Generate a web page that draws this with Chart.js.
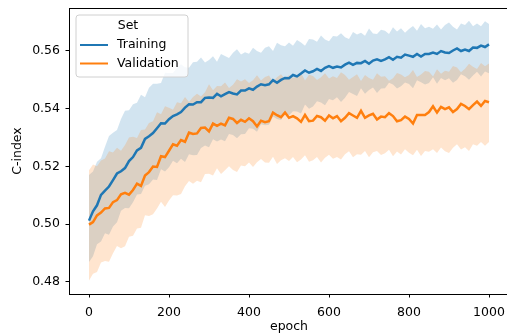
<!DOCTYPE html>
<html>
<head>
<meta charset="utf-8">
<script src="https://cdn.jsdelivr.net/npm/chart.js@4"></script>
<style>
  html, body { margin: 0; padding: 0; background: #fff; overflow: hidden; }
  .wrap { width: 509px; height: 334px; position: relative; }
</style>
</head>
<body>
<div class="wrap"><canvas id="chart"></canvas></div>
<script>
const epochs = [];
for (let e = 0; e <= 1000; e += 10) epochs.push(e);

const seriesNames = ["Training", "Validation"];
const xTicks = [0, 200, 400, 600, 800, 1000];
const yTicks = [0.48, 0.50, 0.52, 0.54, 0.56];

const trainMean = [
  .5012, .5044, .5065, .5101, .5116, .5130, .5152, .5175, .5183, .5194,
  .5218, .5232, .5255, .5264, .5295, .5304, .5315, .5332, .5349, .5348,
  .5363, .5374, .5380, .5388, .5403, .5415, .5414, .5422, .5422, .5437,
  .5438, .5437, .5451, .5442, .5450, .5457, .5452, .5449, .5462, .5462,
  .5470, .5465, .5476, .5484, .5481, .5484, .5498, .5489, .5499, .5506,
  .5505, .5516, .5511, .5521, .5532, .5524, .5529, .5537, .5530, .5541,
  .5547, .5541, .5545, .5542, .5552, .5559, .5551, .5558, .5557, .5565,
  .5555, .5566, .5570, .5565, .5570, .5578, .5569, .5579, .5576, .5587,
  .5583, .5579, .5589, .5580, .5589, .5589, .5594, .5589, .5599, .5594,
  .5592, .5601, .5608, .5599, .5604, .5599, .5611, .5610, .5618, .5613,
  .5622
];
const trainUpper = [
  .5170, .5182, .5216, .5228, .5268, .5305, .5316, .5326, .5364, .5392,
  .5394, .5415, .5420, .5448, .5439, .5472, .5486, .5486, .5488, .5524,
  .5523, .5523, .5541, .5553, .5543, .5541, .5560, .5562, .5577, .5559,
  .5568, .5581, .5562, .5589, .5582, .5575, .5593, .5605, .5587, .5595,
  .5590, .5610, .5599, .5593, .5610, .5616, .5599, .5628, .5619, .5616,
  .5629, .5617, .5637, .5629, .5617, .5641, .5639, .5631, .5653, .5639,
  .5633, .5651, .5649, .5661, .5647, .5641, .5665, .5656, .5662, .5652,
  .5677, .5660, .5658, .5673, .5669, .5658, .5681, .5667, .5678, .5662,
  .5675, .5686, .5669, .5693, .5678, .5683, .5676, .5691, .5674, .5689,
  .5698, .5683, .5674, .5694, .5689, .5704, .5685, .5694, .5685, .5702,
  .5693
];
const trainLower = [
  .4869, .4889, .4930, .4940, .4968, .4963, .4992, .5006, .5046, .5056,
  .5055, .5076, .5102, .5104, .5133, .5138, .5154, .5153, .5190, .5182,
  .5197, .5219, .5211, .5226, .5215, .5242, .5238, .5239, .5263, .5272,
  .5266, .5294, .5286, .5293, .5287, .5312, .5308, .5297, .5311, .5312,
  .5332, .5330, .5320, .5346, .5342, .5344, .5372, .5364, .5360, .5384,
  .5376, .5391, .5390, .5383, .5414, .5399, .5407, .5425, .5421, .5411,
  .5433, .5429, .5439, .5423, .5437, .5457, .5450, .5443, .5470, .5451,
  .5464, .5473, .5454, .5469, .5470, .5489, .5483, .5469, .5477, .5490,
  .5485, .5470, .5498, .5491, .5483, .5488, .5508, .5486, .5506, .5498,
  .5505, .5489, .5499, .5519, .5512, .5500, .5514, .5527, .5511, .5528,
  .5522
];
const valMean = [
  .4998, .5007, .5030, .5040, .5054, .5056, .5076, .5083, .5103, .5108,
  .5102, .5118, .5140, .5132, .5168, .5180, .5199, .5198, .5235, .5232,
  .5254, .5276, .5271, .5291, .5285, .5317, .5312, .5314, .5333, .5334,
  .5321, .5348, .5340, .5348, .5342, .5368, .5364, .5350, .5361, .5354,
  .5366, .5356, .5338, .5358, .5353, .5356, .5386, .5377, .5370, .5386,
  .5368, .5374, .5366, .5354, .5378, .5356, .5358, .5374, .5370, .5358,
  .5376, .5366, .5374, .5356, .5368, .5384, .5376, .5368, .5392, .5368,
  .5376, .5382, .5362, .5372, .5370, .5384, .5374, .5356, .5360, .5372,
  .5364, .5348, .5378, .5378, .5378, .5388, .5408, .5386, .5406, .5398,
  .5404, .5388, .5398, .5416, .5409, .5398, .5412, .5424, .5409, .5426,
  .5422
];
const valUpper = [
  .5186, .5206, .5200, .5220, .5227, .5252, .5248, .5264, .5254, .5274,
  .5300, .5302, .5298, .5326, .5327, .5350, .5356, .5387, .5380, .5408,
  .5403, .5396, .5422, .5418, .5440, .5423, .5440, .5451, .5442, .5456,
  .5484, .5463, .5478, .5477, .5490, .5471, .5482, .5501, .5494, .5501,
  .5488, .5498, .5515, .5497, .5509, .5514, .5493, .5508, .5519, .5502,
  .5516, .5506, .5512, .5523, .5497, .5517, .5513, .5499, .5508, .5522,
  .5504, .5512, .5506, .5526, .5516, .5500, .5509, .5519, .5495, .5516,
  .5506, .5500, .5522, .5510, .5512, .5496, .5505, .5523, .5518, .5508,
  .5516, .5533, .5509, .5518, .5530, .5527, .5511, .5536, .5520, .5531,
  .5527, .5547, .5542, .5526, .5538, .5555, .5545, .5537, .5558, .5546,
  .5556
];
const valLower = [
  .4805, .4828, .4834, .4867, .4872, .4870, .4899, .4924, .4916, .4923,
  .4956, .4960, .4985, .4987, .5031, .5028, .5034, .5054, .5077, .5059,
  .5082, .5100, .5099, .5104, .5131, .5149, .5140, .5150, .5145, .5173,
  .5174, .5168, .5193, .5173, .5186, .5200, .5187, .5180, .5203, .5200,
  .5213, .5198, .5214, .5225, .5213, .5212, .5233, .5208, .5221, .5228,
  .5218, .5232, .5214, .5224, .5238, .5216, .5221, .5232, .5213, .5230,
  .5240, .5226, .5232, .5224, .5242, .5252, .5231, .5242, .5240, .5253,
  .5231, .5249, .5253, .5239, .5245, .5257, .5235, .5251, .5241, .5259,
  .5247, .5238, .5257, .5236, .5253, .5250, .5259, .5246, .5265, .5252,
  .5246, .5264, .5276, .5258, .5266, .5253, .5276, .5271, .5284, .5271,
  .5284
];

const BLUE = "#1f77b4";
const ORANGE = "#ff7f0e";
const FONT = "'DejaVu Sans', sans-serif";

const pts = vals => vals.map((v, i) => ({ x: epochs[i], y: v }));

function band(vals, color, fill, order) {
  return {
    data: pts(vals),
    borderWidth: 0,
    pointRadius: 0,
    backgroundColor: color,
    fill: fill,
    order: order,
    isBand: true
  };
}

// spines + legend box like matplotlib
const framePlugin = {
  id: "frame",
  afterDraw(chart) {
    const { ctx, chartArea: a } = chart;
    ctx.save();
    ctx.strokeStyle = "#000";
    ctx.lineWidth = 1;
    ctx.strokeRect(a.left + 0.5, a.top + 0.5, a.right - a.left - 1, a.bottom - a.top);

    // legend
    const lx = 76, ly = 15, lw = 112, lh = 62, r = 3;
    ctx.beginPath();
    ctx.moveTo(lx + r, ly);
    ctx.arcTo(lx + lw, ly, lx + lw, ly + lh, r);
    ctx.arcTo(lx + lw, ly + lh, lx, ly + lh, r);
    ctx.arcTo(lx, ly + lh, lx, ly, r);
    ctx.arcTo(lx, ly, lx + lw, ly, r);
    ctx.closePath();
    ctx.fillStyle = "rgba(255,255,255,0.8)";
    ctx.fill();
    ctx.strokeStyle = "#d0d0d0";
    ctx.stroke();

    ctx.font = "12.5px " + FONT;
    ctx.fillStyle = "#000";
    ctx.textBaseline = "middle";
    ctx.textAlign = "center";
    ctx.fillText("Set", 128, 26);
    ctx.textAlign = "left";
    const items = chart.data.datasets.filter(d => !d.isBand);
    items.forEach((d, i) => {
      const y = 45 + i * 18.5;
      ctx.strokeStyle = d.borderColor;
      ctx.lineWidth = 2;
      ctx.beginPath();
      ctx.moveTo(80, y);
      ctx.lineTo(108, y);
      ctx.stroke();
      ctx.fillStyle = "#000";
      ctx.fillText(d.label, 117, y);
    });
    ctx.restore();
  }
};

new Chart(document.getElementById("chart"), {
  type: "line",
  data: {
    datasets: [
      band(trainUpper, "rgba(31,119,180,0.2)", "+1", 4),
      band(trainLower, "rgba(31,119,180,0.2)", false, 4),
      band(valUpper, "rgba(255,127,14,0.2)", "+1", 3),
      band(valLower, "rgba(255,127,14,0.2)", false, 3),
      {
        label: seriesNames[0],
        data: pts(trainMean),
        borderColor: BLUE,
        borderWidth: 2.5,
        pointRadius: 0,
        fill: false,
        order: 1
      },
      {
        label: seriesNames[1],
        data: pts(valMean),
        borderColor: ORANGE,
        borderWidth: 2.5,
        pointRadius: 0,
        fill: false,
        order: 0
      }
    ]
  },
  options: {
    responsive: true,
    maintainAspectRatio: false,
    animation: false,
    devicePixelRatio: 1,
    layout: { padding: { top: 8, left: 0, right: 0, bottom: 0 } },
    plugins: {
      legend: { display: false },
      tooltip: { enabled: false }
    },
    elements: { line: { tension: 0 } },
    scales: {
      x: {
        type: "linear",
        min: -50,
        max: 1050,
        afterBuildTicks: s => { s.ticks = xTicks.map(v => ({ value: v })); },
        afterFit: s => { s.height = 40; s.paddingLeft = 0; s.paddingRight = 0; },
        border: { display: false },
        grid: { drawOnChartArea: false, drawTicks: true, tickLength: 3.5, color: "#000" },
        ticks: {
          color: "#000",
          font: { family: FONT, size: 12.5 },
          padding: 8,
          maxRotation: 0,
          callback: v => String(v)
        },
        title: { display: true, text: "epoch", color: "#000", font: { family: FONT, size: 12.5 }, padding: { top: 0, bottom: 0 } }
      },
      y: {
        min: 0.4758,
        max: 0.5748,
        afterBuildTicks: s => { s.ticks = yTicks.map(v => ({ value: v })); },
        afterFit: s => { s.width = 69; s.paddingTop = 0; s.paddingBottom = 0; },
        border: { display: false },
        grid: { drawOnChartArea: false, drawTicks: true, tickLength: 3.5, color: "#000" },
        ticks: {
          color: "#000",
          font: { family: FONT, size: 12.5 },
          padding: 5.5,
          callback: v => v.toFixed(2)
        },
        title: { display: true, text: "C-index", color: "#000", font: { family: FONT, size: 12.5 }, padding: { top: 10.5, bottom: 0 } }
      }
    }
  },
  plugins: [framePlugin]
});
</script>
</body>
</html>
